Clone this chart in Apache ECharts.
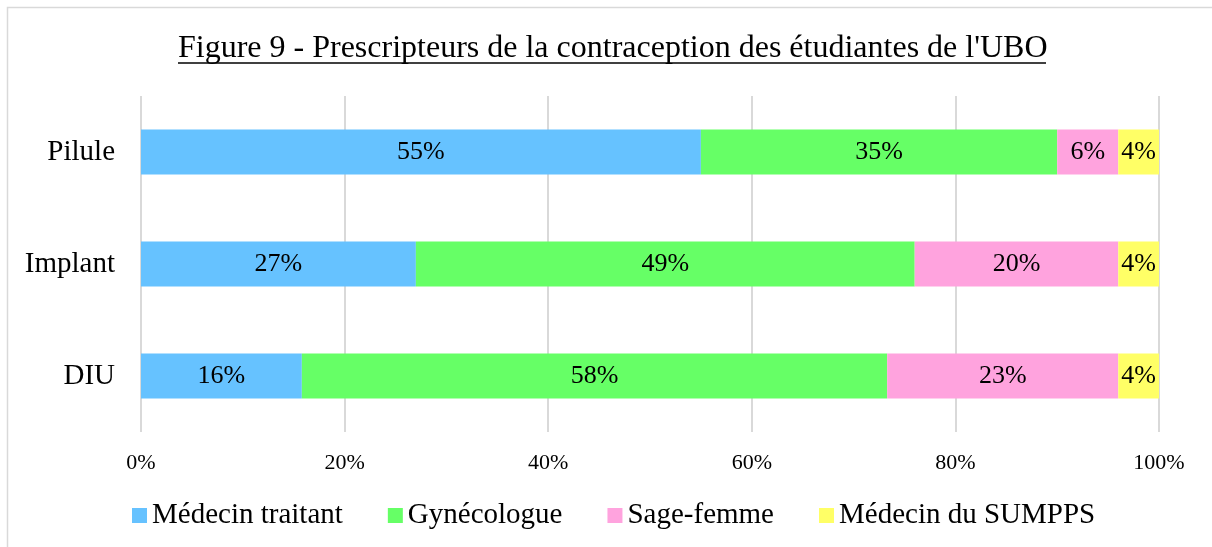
<!DOCTYPE html>
<html>
<head>
<meta charset="utf-8">
<script src="https://cdn.jsdelivr.net/npm/echarts@6/dist/echarts.min.js"></script>
<style>
  html, body { margin: 0; padding: 0; background: #fff; }
  #chart { width: 1212px; height: 547px; }
</style>
</head>
<body>
<div id="chart"></div>
<script>
// catégories (de haut en bas)
const categories = ['Pilule', 'Implant', 'DIU'];

// parts en %
const medecinTraitant = [55, 27, 15.8];
const gynecologue = [35, 49, 57.5];
const sageFemme = [6, 20, 22.7];
const medecinSumpps = [4, 4, 4];

const xTicks = [0, 20, 40, 60, 80, 100];

const FONT = '"Liberation Serif", "Times New Roman", serif';

const seriesDefs = [
  { name: 'Médecin traitant', data: medecinTraitant, color: '#66C2FF' },
  { name: 'Gynécologue', data: gynecologue, color: '#66FF66' },
  { name: 'Sage-femme', data: sageFemme, color: '#FFA3DE' },
  { name: 'Médecin du SUMPPS', data: medecinSumpps, color: '#FFFF66' }
];

const chart = echarts.init(document.getElementById('chart'), null, { renderer: 'canvas' });

const option = {
  animation: false,
  backgroundColor: '#fff',
  textStyle: { fontFamily: FONT, color: '#000' },
  title: {
    text: 'Figure 9 - Prescripteurs de la contraception des étudiantes de l\'UBO',
    left: 173,
    top: 28,
    textStyle: { fontFamily: FONT, fontSize: 32, fontWeight: 'normal', color: '#000' }
  },
  graphic: [
    {
      type: 'rect',
      shape: { x: 7.5, y: 7.5, width: 1220, height: 560 },
      style: { fill: 'none', stroke: '#d9d9d9', lineWidth: 1.5 },
      silent: true
    },
    {
      type: 'line',
      shape: { x1: 178, y1: 63, x2: 1046, y2: 63 },
      style: { stroke: '#000', lineWidth: 1.5 },
      silent: true
    }
  ],
  legend: {
    bottom: 12,
    left: 127,
    itemWidth: 15,
    itemHeight: 15,
    itemGap: 45,
    icon: 'rect',
    textStyle: { fontFamily: FONT, fontSize: 29, color: '#000' },
    data: seriesDefs.map(s => s.name)
  },
  grid: { left: 141, right: 53, top: 96, bottom: 115, containLabel: false },
  xAxis: {
    type: 'value',
    min: 0,
    max: 100,
    interval: 20,
    axisLine: { show: false },
    axisTick: { show: false },
    splitLine: { lineStyle: { color: '#d9d9d9', width: 2 } },
    axisLabel: {
      fontFamily: FONT,
      fontSize: 22,
      color: '#000',
      margin: 20,
      formatter: v => (xTicks.includes(v) ? v + '%' : '')
    }
  },
  yAxis: {
    type: 'category',
    data: categories,
    inverse: true,
    axisLine: { show: false },
    axisTick: { show: false },
    axisLabel: { fontFamily: FONT, fontSize: 29, color: '#000', margin: 26 }
  },
  series: seriesDefs.map(s => ({
    name: s.name,
    type: 'bar',
    stack: 'total',
    barWidth: 45,
    data: s.data,
    itemStyle: { color: s.color },
    label: {
      show: true,
      position: 'inside',
      fontFamily: FONT,
      fontSize: 26,
      color: '#000',
      formatter: p => Math.round(p.value) + '%'
    }
  }))
};

chart.setOption(option);
</script>
</body>
</html>
